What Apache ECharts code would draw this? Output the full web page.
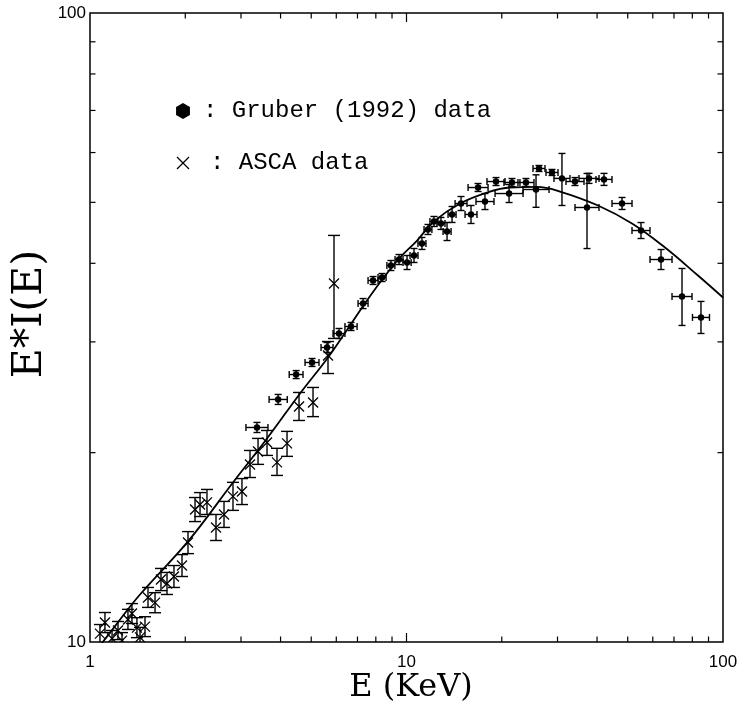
<!DOCTYPE html>
<html><head><meta charset="utf-8">
<script src="https://cdn.jsdelivr.net/npm/echarts@6/dist/echarts.min.js"></script>
<style>html,body{margin:0;padding:0;background:#fff}#c{width:744px;height:712px}</style>
</head><body><div id="c"></div>
<script>
// ---- tick values ----
const xTickLabels = [1, 10, 100];
const yTickLabels = [10, 100];
const xMinorTicks = [2, 3, 4, 5, 6, 7, 8, 9, 20, 30, 40, 50, 60, 70, 80, 90];
const xMajorTicks = [10];
const yMinorTicks = [20, 30, 40, 50, 60, 70, 80, 90];

// ---- Gruber (1992) data ----
const gruberE   = [3.37,3.93,4.48,5.03,5.61,6.12,6.68,7.29,7.84,8.37,8.93,9.47,10.04,10.56,11.19,11.69,12.21,12.85,13.43,13.93,14.87,15.99,16.83,17.70,19.18,21.09,21.54,23.85,25.66,26.22,28.82,30.99,34.07,37.18,37.73,42.07,47.97,55.07,63.71,74.22,85.2];
const gruberV   = [21.93,24.30,26.62,27.82,29.39,30.94,31.74,34.52,37.56,37.97,39.68,40.56,40.12,41.16,43.01,45.27,46.62,46.28,44.94,47.83,49.79,47.83,52.79,50.15,53.96,51.64,53.77,53.77,52.41,56.60,55.78,54.58,53.96,49.07,54.58,54.38,49.79,45.10,40.56,35.42,32.81];
const gruberELo = [3.11,3.68,4.26,4.78,5.37,5.86,6.39,7.03,7.56,8.13,8.67,9.20,9.75,10.26,10.87,11.36,11.86,12.48,13.05,13.53,14.24,15.31,15.65,16.58,17.96,19.05,20.32,22.50,23.34,25.10,27.59,29.24,31.91,34.07,35.08,39.69,44.60,51.58,58.81,69.01,80.09];
const gruberEHi = [3.65,4.20,4.71,5.29,5.86,6.39,6.98,7.56,8.13,8.62,9.19,9.75,10.34,10.87,11.52,12.03,12.57,13.23,13.83,14.34,15.53,16.70,18.10,18.90,20.48,23.35,22.83,25.28,28.21,27.39,30.11,32.85,36.38,40.57,40.58,44.59,51.59,58.80,69.02,79.82,90.63];
const gruberVLo = [21.53,23.86,26.23,27.42,28.86,30.38,31.28,33.89,37.02,37.42,38.96,39.82,39.10,40.12,42.08,44.45,45.77,45.28,43.48,46.45,48.53,46.28,52.03,48.70,53.18,49.97,52.99,52.99,49.10,55.98,55.17,49.43,53.18,42.22,53.59,53.20,48.71,43.80,39.10,31.86,30.94];
const gruberVHi = [22.34,24.75,27.01,28.23,29.93,31.51,32.21,35.16,38.11,38.53,40.41,41.31,41.16,42.23,43.97,46.11,47.48,47.31,46.45,49.25,51.08,49.43,53.57,51.64,54.75,53.37,54.56,54.56,55.30,57.22,56.40,59.80,54.75,55.58,55.59,55.59,50.90,46.44,42.07,39.25,34.79];

// ---- ASCA data ----
const ascaE   = [1.075,1.115,1.174,1.226,1.262,1.318,1.357,1.407,1.439,1.492,1.525,1.605,1.676,1.751,1.842,1.953,2.040,2.147,2.227,2.342,2.501,2.651,2.830,3.021,3.203,3.396,3.625,3.898,4.193,4.575,5.066,5.649,5.901];
const ascaV   = [10.31,10.74,10.13,10.43,10.05,10.86,11.10,10.54,10.17,10.58,11.77,11.55,12.57,12.39,12.71,13.23,14.39,16.24,16.54,16.67,15.21,15.95,17.04,17.35,19.15,20.09,20.76,19.30,20.69,23.68,24.03,28.54,37.15];
const ascaVLo = [9.98,10.35,9.84,10.09,9.76,10.47,10.70,10.16,9.80,10.20,11.35,11.13,12.07,11.90,12.21,12.71,13.82,15.54,15.83,15.95,14.50,15.21,16.19,16.54,18.26,19.16,19.80,18.40,19.73,22.50,22.82,26.72,30.38];
const ascaVHi = [10.66,11.14,10.43,10.78,10.35,11.27,11.51,10.93,10.55,10.97,12.21,11.98,13.09,12.90,13.23,13.77,14.98,16.97,17.28,17.48,15.95,16.73,17.94,18.19,20.16,21.07,21.69,20.32,21.62,24.93,25.39,30.04,44.30];

// ---- model curve ----
const modelE = [1.0,1.2,1.439,2.04,2.83,3.625,4.609,5.649,6.63,7.5,8.43,9.54,10.8,12.21,14.76,17.96,21.23,25.84,30.55,40.28,51.58,65.57,83.37,100];
const modelV = [9.4,10.6,11.9,14.45,17.93,21.06,24.84,28.34,31.86,34.91,37.84,40.86,43.48,46.62,49.79,51.83,52.79,52.9,52.02,49.43,46.28,42.38,38.25,35.29];

const chart = echarts.init(document.getElementById('c'), null, {renderer: 'canvas'});
const LW = 1.4;

function clampY(y, cs) { return Math.max(cs.y, Math.min(cs.y + cs.height, y)); }
function ln(x1, y1, x2, y2, w) {
  return {type: 'line', shape: {x1, y1, x2, y2}, style: {stroke: '#000', lineWidth: w || LW}};
}

function renderGruber(params, api) {
  const c = api.coord([api.value(0), api.value(1)]);
  const l = api.coord([api.value(2), api.value(1)]);
  const r = api.coord([api.value(3), api.value(1)]);
  const lo = api.coord([api.value(0), api.value(4)]);
  const hi = api.coord([api.value(0), api.value(5)]);
  const cap = 3.5;
  return {type: 'group', children: [
    ln(l[0], c[1], r[0], c[1]),
    ln(l[0], c[1] - cap, l[0], c[1] + cap),
    ln(r[0], c[1] - cap, r[0], c[1] + cap),
    ln(c[0], lo[1], c[0], hi[1]),
    ln(c[0] - cap, lo[1], c[0] + cap, lo[1]),
    ln(c[0] - cap, hi[1], c[0] + cap, hi[1]),
    {type: 'circle', shape: {cx: c[0], cy: c[1], r: 3.2}, style: {fill: '#000'}}
  ]};
}

function renderAsca(params, api) {
  const cs = params.coordSys;
  const c = api.coord([api.value(0), api.value(1)]);
  const lo = api.coord([api.value(0), api.value(2)]);
  const hi = api.coord([api.value(0), api.value(3)]);
  const cap = 6, m = 5;
  const yl = clampY(lo[1], cs), yh = clampY(hi[1], cs);
  const ch = [
    ln(c[0], yl, c[0], yh),
    ln(c[0] - cap, yh, c[0] + cap, yh),
    ln(c[0] - m, c[1] - m, c[0] + m, c[1] + m, 1.3),
    ln(c[0] - m, c[1] + m, c[0] + m, c[1] - m, 1.3)
  ];
  if (lo[1] <= cs.y + cs.height) ch.push(ln(c[0] - cap, yl, c[0] + cap, yl));
  return {type: 'group', children: ch};
}

function renderXTick(params, api) {
  const cs = params.coordSys;
  const p = api.coord([api.value(0), 10]);
  const len = api.value(1);
  return {type: 'group', children: [
    ln(p[0], cs.y + cs.height, p[0], cs.y + cs.height - len, 1.2),
    ln(p[0], cs.y, p[0], cs.y + len, 1.2)
  ]};
}
function renderYTick(params, api) {
  const cs = params.coordSys;
  const p = api.coord([1, api.value(0)]);
  const len = api.value(1);
  return {type: 'group', children: [
    ln(cs.x, p[1], cs.x + len, p[1], 1.2),
    ln(cs.x + cs.width, p[1], cs.x + cs.width - len, p[1], 1.2)
  ]};
}

const hex = [];
for (let k = 0; k < 6; k++) {
  const a = Math.PI / 6 + k * Math.PI / 3;
  hex.push([183 + 8 * Math.cos(a), 111 + 8 * Math.sin(a)]);
}

const option = {
  animation: false,
  backgroundColor: '#fff',
  grid: {left: 90, top: 13, right: 21, bottom: 70, show: true, borderColor: '#000', borderWidth: 1.5, backgroundColor: 'transparent'},
  xAxis: {
    type: 'log', logBase: 10, min: xTickLabels[0], max: xTickLabels[xTickLabels.length - 1],
    axisLine: {show: false}, axisTick: {show: false}, splitLine: {show: false},
    axisLabel: {color: '#000', fontFamily: 'Liberation Sans', fontSize: 17, margin: 12,
      formatter: v => String(v)}
  },
  yAxis: {
    type: 'log', logBase: 10, min: yTickLabels[0], max: yTickLabels[yTickLabels.length - 1],
    axisLine: {show: false}, axisTick: {show: false}, splitLine: {show: false},
    axisLabel: {color: '#000', fontFamily: 'Liberation Sans', fontSize: 17, margin: 4,
      formatter: v => String(v)}
  },
  series: [
    {type: 'custom', name: 'xticks', renderItem: renderXTick, silent: true,
      data: xMinorTicks.map(v => [v, 5.5]).concat(xMajorTicks.map(v => [v, 9])), encode: {x: 0}},
    {type: 'custom', name: 'yticks', renderItem: renderYTick, silent: true,
      data: yMinorTicks.map(v => [v, 5.5]), encode: {y: 0}},
    {type: 'line', name: 'model', data: modelE.map((e, i) => [e, modelV[i]]),
      showSymbol: false, smooth: 0.4, lineStyle: {color: '#000', width: 1.8}, clip: true, z: 3},
    {type: 'custom', name: 'Gruber (1992) data', renderItem: renderGruber, clip: true, z: 4,
      data: gruberE.map((e, i) => [e, gruberV[i], gruberELo[i], gruberEHi[i], gruberVLo[i], gruberVHi[i]]),
      encode: {x: [0, 2, 3], y: [1, 4, 5]}},
    {type: 'custom', name: 'ASCA data', renderItem: renderAsca, clip: true, z: 4,
      data: ascaE.map((e, i) => [e, ascaV[i], ascaVLo[i], ascaVHi[i]]),
      encode: {x: 0, y: [1, 2, 3]}}
  ],
  graphic: [
    {type: 'text', x: 30, y: 314, rotation: Math.PI / 2,
      style: {text: 'E*I(E)', font: '41px "DejaVu Serif"', fill: '#000', align: 'center', verticalAlign: 'middle'}},
    {type: 'text', x: 411, y: 688,
      style: {text: 'E (KeV)', font: '32px "DejaVu Serif"', fill: '#000', align: 'center', verticalAlign: 'middle'}},
    {type: 'polygon', shape: {points: hex}, style: {fill: '#000'}},
    {type: 'text', x: 203, y: 111,
      style: {text: ': Gruber (1992) data', font: '24px "Liberation Mono"', fill: '#000', align: 'left', verticalAlign: 'middle'}},
    {type: 'line', shape: {x1: 177, y1: 157, x2: 189, y2: 169}, style: {stroke: '#000', lineWidth: 1.3}},
    {type: 'line', shape: {x1: 177, y1: 169, x2: 189, y2: 157}, style: {stroke: '#000', lineWidth: 1.3}},
    {type: 'text', x: 210, y: 163,
      style: {text: ': ASCA data', font: '24px "Liberation Mono"', fill: '#000', align: 'left', verticalAlign: 'middle'}}
  ]
};
chart.setOption(option);
</script>
</body></html>
